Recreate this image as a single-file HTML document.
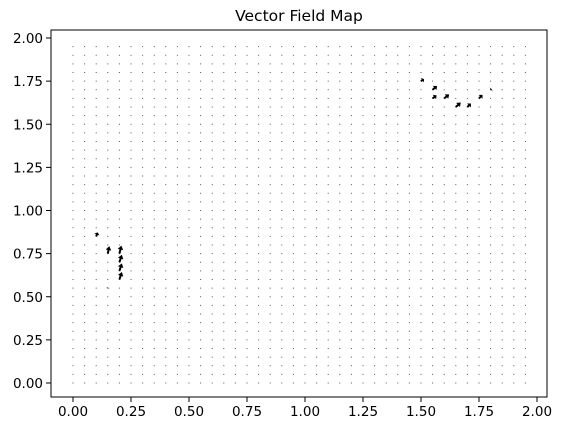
<!DOCTYPE html>
<html><head><meta charset="utf-8"><style>
html,body{margin:0;padding:0;background:#fff;}
svg{display:block;font-family:"DejaVu Sans","Liberation Sans",sans-serif;}
</style></head><body>
<svg id="chart" width="561" height="433" viewBox="0 0 561 433">
<text x="299" y="21" text-anchor="middle" font-size="15.5">Vector Field Map</text>
<g id="dots"></g>
<g id="arrows"></g>
<rect x="51" y="30" width="496" height="367" fill="none" stroke="#000" stroke-width="1"/>
<g id="xaxis"></g>
<g id="yaxis"></g>
</svg>
<script>
const xTicks = [0, 0.25, 0.5, 0.75, 1.0, 1.25, 1.5, 1.75, 2.0];
const yTicks = [0, 0.25, 0.5, 0.75, 1.0, 1.25, 1.5, 1.75, 2.0];
const tickLabels = ["0.00","0.25","0.50","0.75","1.00","1.25","1.50","1.75","2.00"];
const gridStep = 0.05;
const gridCount = 40;
// non-zero vectors: tail positions and components
const vecX = [0.10, 0.15, 0.15, 0.20, 0.20, 0.20, 0.20, 1.50, 1.55, 1.55, 1.60, 1.65, 1.70, 1.75, 1.80];
const vecY = [0.85, 0.75, 0.55, 0.60, 0.65, 0.70, 0.75, 1.75, 1.70, 1.65, 1.65, 1.60, 1.60, 1.65, 1.70];
const vecU = [1.5, 1.5, 0.2, 2.5, 2.5, 2.5, 2.0, 3.0, 4.5, 4.0, 5.0, 5.0, 3.5, 3.5, 1.0];
const vecV = [4.0, 7.5, 0.5, 7.5, 7.5, 7.5, 8.0, 2.0, 3.8, 3.0, 4.0, 4.5, 3.5, 3.5, 0.8];

const NS = "http://www.w3.org/2000/svg";
const X = v => 73 + v * 232;
const Y = v => 383 - v * 172.5;

const dots = document.getElementById('dots');
for (let i = 0; i < gridCount; i++) {
  for (let j = 0; j < gridCount; j++) {
    const r = document.createElementNS(NS, 'rect');
    r.setAttribute('x', (X(i * gridStep) - 0.5).toFixed(2));
    r.setAttribute('y', (Y(j * gridStep) - 0.5).toFixed(2));
    r.setAttribute('width', 1); r.setAttribute('height', 1);
    r.setAttribute('fill', '#555');
    
    
    dots.appendChild(r);
  }
}

const arrows = document.getElementById('arrows');
for (let k = 0; k < vecX.length; k++) {
  const x0 = X(vecX[k]), y0 = Y(vecY[k]);
  const dx = vecU[k], dy = -vecV[k];
  const L = Math.hypot(dx, dy);
  const ux = dx / L, uy = dy / L, px = -uy, py = ux;
  const sw = 1.0, hw = 2.8, hl = Math.min(4, L * 0.55);
  const bx = x0 + ux * (L - hl), by = y0 + uy * (L - hl);
  const pts = [
    [x0 + px * sw, y0 + py * sw], [bx + px * sw, by + py * sw], [bx + px * hw, by + py * hw],
    [x0 + dx, y0 + dy], [bx - px * hw, by - py * hw], [bx - px * sw, by - py * sw], [x0 - px * sw, y0 - py * sw]
  ];
  const p = document.createElementNS(NS, 'polygon');
  p.setAttribute('points', pts.map(q => q[0].toFixed(2) + ',' + q[1].toFixed(2)).join(' '));
  p.setAttribute('fill', '#000');
  
  
  arrows.appendChild(p);
}

const xa = document.getElementById('xaxis');
xTicks.forEach((t, i) => {
  const l = document.createElementNS(NS, 'line');
  l.setAttribute('x1', X(t)); l.setAttribute('x2', X(t));
  l.setAttribute('y1', 397); l.setAttribute('y2', 402);
  l.setAttribute('stroke', '#000');
  
  
  xa.appendChild(l);
  const tx = document.createElementNS(NS, 'text');
  tx.setAttribute('x', X(t)); tx.setAttribute('y', 416);
  tx.setAttribute('text-anchor', 'middle'); tx.setAttribute('font-size', '13.5');
  tx.textContent = tickLabels[i];
  
  
  xa.appendChild(tx);
});
const ya = document.getElementById('yaxis');
yTicks.forEach((t, i) => {
  const l = document.createElementNS(NS, 'line');
  l.setAttribute('x1', 46); l.setAttribute('x2', 51);
  l.setAttribute('y1', Y(t)); l.setAttribute('y2', Y(t));
  l.setAttribute('stroke', '#000');
  
  
  ya.appendChild(l);
  const tx = document.createElementNS(NS, 'text');
  tx.setAttribute('x', 43); tx.setAttribute('y', Y(t) + 5);
  tx.setAttribute('text-anchor', 'end'); tx.setAttribute('font-size', '13.5');
  tx.textContent = tickLabels[i];
  
  
  ya.appendChild(tx);
});
</script>
</body></html>
